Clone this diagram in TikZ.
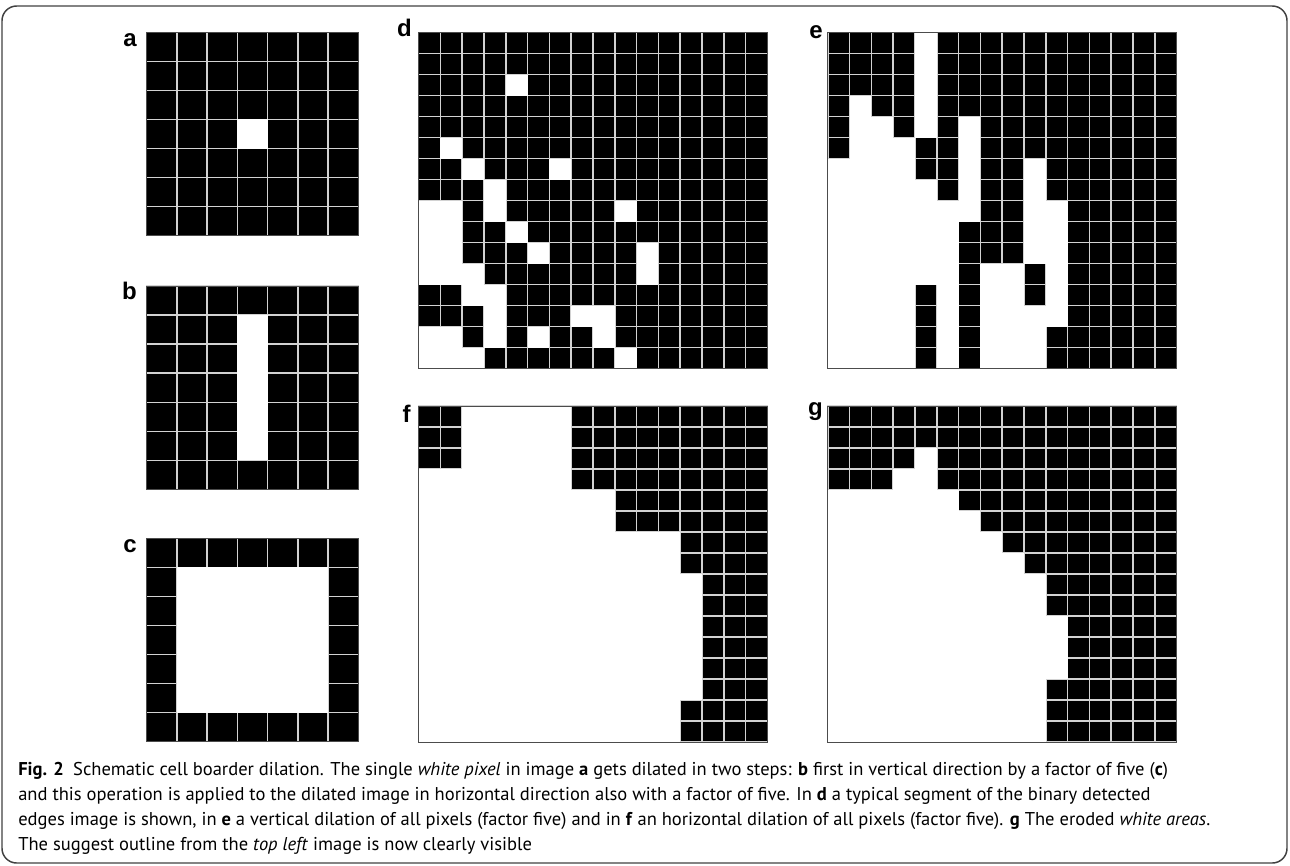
\documentclass[tikz,border=0pt]{standalone}
\usepackage{fontspec}
\setmainfont{PT Sans}
\newfontfamily\panelfont{Liberation Sans}
\usetikzlibrary{positioning}
\tikzset{
  pix/.style={fill=black,draw=gray!35,line width=1.1pt},
  gridframe/.style={draw=black!70,line width=0.7pt},
  panel/.style={font=\panelfont\bfseries\fontsize{18}{18}\selectfont,inner sep=0pt,anchor=base east},
  figframe/.style={draw=black!75,line width=1.1pt,rounded corners=11pt},
  caption/.style={font=\fontsize{13.9}{18.75}\selectfont,align=left,anchor=north west,inner sep=0pt},
}
% #1,#2 top left corner, #3,#4 cell size, #5 cells per side, #6 white runs row/from/to
\newcommand\pixgrid[6]{%
  \begin{scope}[shift={(#1,#2)},x=#3*0.75pt,y=-#4*0.75pt]
    \foreach \r in {1,...,#5} \foreach \c in {1,...,#5}
      \filldraw[pix] (\c-1,\r-1) rectangle (\c,\r);
    \foreach \r/\ca/\cb in {#6}
      \fill[white] (\ca-1,\r-1) rectangle (\cb,\r);
    \draw[gridframe] (0,0) rectangle (#5,#5);
  \end{scope}}

\begin{document}
\begin{tikzpicture}[x=0.75pt,y=-0.75pt]
  \useasboundingbox (0,0) rectangle (1290,865);
  \draw[figframe] (2,6) rectangle (1287,863);
  % single pixel and its two dilation steps
  \pixgrid{146.7}{32.3}{30.24}{29.06}{7}{4/4/4}
  \pixgrid{146.7}{286}{30.24}{29.06}{7}{2/4/4,3/4/4,4/4/4,5/4/4,6/4/4}
  \pixgrid{146.7}{538.3}{30.24}{29.06}{7}{2/2/6,3/2/6,4/2/6,5/2/6,6/2/6}
  % edges segment
  \pixgrid{418.6}{32.7}{21.8}{21}{16}{3/5/5,6/2/2,7/3/3,7/7/7,8/4/4,9/1/2,9/4/4,9/10/10,
    10/1/2,10/5/5,11/1/2,11/6/6,11/11/11,12/1/3,12/11/11,13/3/4,14/4/4,14/8/9,
    15/1/2,15/4/4,15/6/6,15/9/9,16/1/3,16/10/10}
  % vertical dilation
  \pixgrid{827.8}{32.7}{21.8}{21}{16}{1/5/5,2/5/5,3/5/5,4/2/2,4/5/5,5/2/3,5/5/5,5/7/7,
    6/2/4,6/7/7,7/1/4,7/7/7,7/10/10,8/1/5,8/7/7,8/10/10,9/1/7,9/10/11,10/1/6,10/10/11,
    11/1/6,11/10/11,12/1/6,12/8/9,12/11/11,13/1/4,13/6/6,13/8/9,13/11/11,
    14/1/4,14/6/6,14/8/11,15/1/4,15/6/6,15/8/10,16/1/4,16/6/6,16/8/10}
  % horizontal dilation
  \pixgrid{418.6}{406}{21.8}{21}{16}{1/3/7,2/3/7,3/3/7,4/1/7,5/1/9,6/1/9,7/1/12,8/1/12,
    9/1/13,10/1/13,11/1/13,12/1/13,13/1/13,14/1/13,15/1/12,16/1/12}
  % eroded
  \pixgrid{827.8}{406}{21.8}{21}{16}{3/5/5,4/4/5,5/1/6,6/1/7,7/1/8,8/1/9,9/1/10,10/1/10,
    11/1/11,12/1/11,13/1/11,14/1/10,15/1/10,16/1/10}
  \node[panel] (la) at (137,46) {a};
  \node[panel] (lb) at (137,299) {b};
  \node[panel] (lc) at (137,552) {c};
  \node[panel] (ld) at (412,36) {d};
  \node[panel] (le) at (823,38) {e};
  \node[panel] (lf) at (411,422) {f};
  \node[panel] (lg) at (823,415) {g};
  \node[caption] (cap) at (18,762) {\textbf{Fig. 2}\hspace{0.5em}Schematic cell boarder dilation. The single \textit{white pixel} in image \textbf{a} gets dilated in two steps: \textbf{b} first in vertical direction by a factor of five (\textbf{c})\\
    and this operation is applied to the dilated image in horizontal direction also with a factor of five. In \textbf{d} a typical segment of the binary detected\\
    edges image is shown, in \textbf{e} a vertical dilation of all pixels (factor five) and in \textbf{f} an horizontal dilation of all pixels (factor five). \textbf{g} The eroded \textit{white areas}.\\
    The suggest outline from the \textit{top left} image is now clearly visible};
\end{tikzpicture}
\end{document}
